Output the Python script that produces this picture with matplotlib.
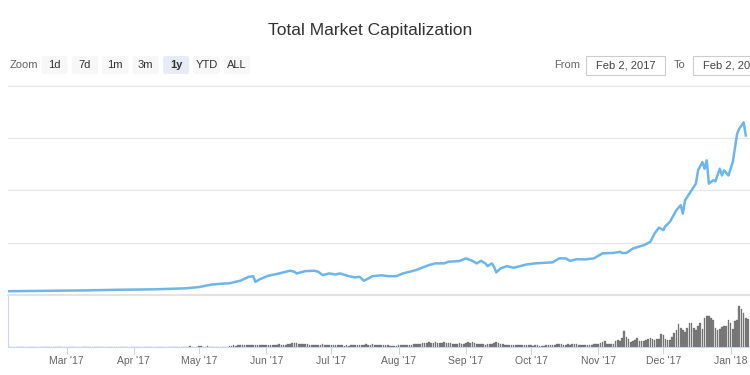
import pandas as pd
import matplotlib
matplotlib.use("Agg")
import matplotlib.pyplot as plt
import matplotlib.dates as mdates
from matplotlib.patches import FancyBboxPatch, Rectangle

TITLE = "Total Market Capitalization"
ZOOM_BUTTONS = ["1d", "7d", "1m", "3m", "1y", "YTD", "ALL"]
SELECTED = "1y"
FROM_DATE = "Feb 2, 2017"
TO_DATE = "Feb 2, 2017"

# total market cap, billions USD
cap_dates = [
    "2017-02-02", "2017-02-20", "2017-03-10", "2017-03-25", "2017-04-10", "2017-04-25",
    "2017-05-01", "2017-05-07", "2017-05-13", "2017-05-15", "2017-05-20", "2017-05-24",
    "2017-05-26", "2017-05-27", "2017-05-29", "2017-06-02", "2017-06-07", "2017-06-12",
    "2017-06-14", "2017-06-15", "2017-06-19", "2017-06-23", "2017-06-25", "2017-06-27",
    "2017-06-30", "2017-07-03", "2017-07-05", "2017-07-09", "2017-07-12", "2017-07-14",
    "2017-07-16", "2017-07-20", "2017-07-24", "2017-07-27", "2017-07-31", "2017-08-03",
    "2017-08-09", "2017-08-15", "2017-08-18", "2017-08-22", "2017-08-24", "2017-08-29",
    "2017-09-01", "2017-09-04", "2017-09-06", "2017-09-08", "2017-09-10", "2017-09-11",
    "2017-09-13", "2017-09-14", "2017-09-15", "2017-09-17", "2017-09-20", "2017-09-23",
    "2017-09-29", "2017-10-03", "2017-10-11", "2017-10-14", "2017-10-17", "2017-10-19",
    "2017-10-22", "2017-10-26", "2017-10-30", "2017-11-03", "2017-11-08", "2017-11-11",
    "2017-11-12", "2017-11-14", "2017-11-17", "2017-11-22", "2017-11-25", "2017-11-27",
    "2017-11-29", "2017-12-01", "2017-12-02", "2017-12-04", "2017-12-07", "2017-12-09",
    "2017-12-10", "2017-12-11", "2017-12-14", "2017-12-16", "2017-12-17", "2017-12-19",
    "2017-12-20", "2017-12-21", "2017-12-22", "2017-12-24", "2017-12-25", "2017-12-27",
    "2017-12-28", "2017-12-29", "2017-12-31", "2018-01-02", "2018-01-04", "2018-01-05",
    "2018-01-07", "2018-01-08",
]
cap_bn = [
    18, 20, 22, 25, 27, 32,
    38, 50, 55, 56, 68, 87,
    90, 63, 75, 92, 103, 116,
    111, 103, 114, 116, 111, 95,
    103, 98, 103, 90, 84, 87,
    68, 90, 94, 90, 90, 103,
    119, 143, 151, 151, 159, 162,
    175, 163, 151, 163, 151, 138,
    151, 135, 108, 127, 138, 130,
    146, 151, 156, 175, 175, 163,
    171, 170, 175, 199, 201, 206,
    201, 201, 222, 238, 254, 294,
    322, 310, 329, 349, 405, 429,
    389, 452, 500, 532, 595, 635,
    603, 643, 532, 548, 543, 603,
    571, 595, 571, 635, 770, 794,
    825, 762,
]

# daily 24h volume, billions USD, starting Feb 2 2017
vol_start = "2017-02-02"
vol_feb = [0.2, 0.2, 0.2, 0.3, 0.2, 0.2, 0.3, 0.2, 0.2, 0.2, 0.2, 0.2, 0.2, 0.3,
           0.2, 0.2, 0.2, 0.2, 0.3, 0.3, 0.3, 0.2, 0.3, 0.3, 0.4, 0.3, 0.3]
vol_mar = [0.3, 0.3, 0.4, 0.3, 0.3, 0.4, 0.4, 0.3, 0.4, 0.5, 0.4, 0.4, 0.4, 0.5, 0.5, 0.4,
           0.5, 0.5, 0.4, 0.4, 0.5, 0.5, 0.4, 0.4, 0.5, 0.4, 0.4, 0.4, 0.5, 0.4, 0.4]
vol_apr = [0.4, 0.4, 0.5, 0.5, 0.4, 0.4, 0.4, 0.4, 0.4, 0.4, 0.4, 0.4, 0.4, 0.4, 0.3,
           0.3, 0.4, 0.4, 0.4, 0.5, 0.5, 0.5, 0.4, 0.5, 0.6, 0.7, 0.8, 0.7, 0.6, 0.7]
vol_may = [1.0, 1.4, 0.6, 0.5, 1.3, 0.5, 0.5, 0.5, 0.5, 0.4, 0.5, 0.5, 0.6, 0.5, 1.8, 2.0,
           2.2, 2.1, 2.4, 2.6, 2.3, 2.8, 3.0, 3.3, 3.6, 3.2, 2.7, 2.4, 2.6, 2.8, 2.9]
vol_jun = [3.1, 3.4, 3.0, 2.8, 3.2, 3.6, 3.9, 3.5, 3.3, 3.6, 4.4, 5.0, 5.4, 5.6, 5.2,
           4.6, 4.2, 4.0, 3.7, 3.9, 3.5, 3.2, 3.6, 3.1, 2.9, 3.4, 3.8, 3.3, 3.0, 3.1]
vol_jul = [2.4, 2.2, 2.5, 2.9, 2.6, 2.3, 2.0, 2.2, 2.1, 2.3, 2.6, 2.8, 2.5, 2.4, 2.9, 3.3,
           3.9, 3.0, 3.4, 4.2, 3.6, 2.6, 2.4, 2.2, 2.5, 2.3, 2.4, 2.1, 1.9, 1.8, 2.0]
vol_aug = [2.6, 2.4, 3.0, 3.2, 3.6, 3.3, 3.4, 3.9, 4.2, 3.8, 4.5, 5.2, 6.3, 5.8, 6.6, 5.4,
           5.9, 6.8, 6.1, 5.6, 6.4, 7.0, 6.2, 5.3, 5.5, 4.8, 4.6, 4.9, 5.8, 5.1, 4.9]
vol_sep = [6.3, 6.8, 5.9, 6.6, 5.7, 4.4, 4.8, 4.1, 3.9, 3.6, 3.8, 4.2, 4.6, 6.2, 7.4,
           6.5, 4.8, 3.7, 3.4, 3.0, 3.1, 2.9, 2.6, 2.4, 2.2, 2.5, 2.7, 2.4, 2.3, 2.6]
vol_oct = [2.3, 2.1, 2.4, 2.2, 2.0, 2.1, 2.0, 2.2, 2.6, 2.8, 3.0, 3.6, 4.2, 4.0, 3.7, 3.5,
           3.3, 3.9, 3.6, 3.8, 4.3, 3.8, 3.4, 3.6, 3.2, 3.0, 3.1, 3.3, 3.5, 3.8, 4.4]
vol_nov = [4.5, 6.0, 6.8, 8.2, 4.3, 4.1, 4.6, 4.4, 9.5, 10.2, 9.1, 13.8, 24.0, 15.0, 11.0,
           7.2, 9.0, 10.8, 12.6, 8.4, 8.8, 8.2, 9.6, 12.4, 13.0, 12.2, 10.4, 11.2, 12.0, 19.6]
vol_dec = [17, 11, 10, 10, 14, 21, 25, 34, 28, 25, 22, 28, 35, 35, 28, 25,
           31, 35, 27, 42, 45, 45, 42, 39, 28, 25, 27, 29, 31, 31, 39]
vol_jan = [35, 27, 38, 39, 60, 56, 49, 42, 41]

volume_bn = (vol_feb + vol_mar + vol_apr + vol_may + vol_jun + vol_jul + vol_aug
             + vol_sep + vol_oct + vol_nov + vol_dec + vol_jan)
vol_dates = pd.date_range(vol_start, periods=len(volume_bn), freq="D")

month_ticks = pd.date_range("2017-03-01", "2018-01-01", freq="MS")
month_labels = [d.strftime("%b '%y") for d in month_ticks]

LINE = "#6cb6eb"
GRID = "#e6e6e6"
AXIS = "#ccd6eb"
FONT = "Liberation Sans"

W, H = 750, 375
fig = plt.figure(figsize=(7.5, 3.75), dpi=100)

x0 = mdates.date2num(pd.Timestamp("2017-02-02"))
x1 = x0 + 742 / 2.17

# main chart
ax = fig.add_axes([8 / W, 80 / H, 742 / W, 210 / H])
ax.plot(pd.to_datetime(cap_dates), cap_bn, color=LINE, lw=1.8, solid_joinstyle="round")
ax.set_xlim(x0, x1)
ax.set_ylim(0, 1003)
ax.set_yticks([250, 500, 750, 1000])
ax.yaxis.grid(True, color=GRID, lw=1)
ax.set_axisbelow(True)
ax.tick_params(left=False, labelleft=False, bottom=False, labelbottom=False)
for s in ax.spines.values():
    s.set_visible(False)

# volume panel
axv = fig.add_axes([8 / W, 28 / H, 742 / W, 52 / H])
axv.bar(vol_dates, volume_bn, width=0.75, color="#7d7d7d", edgecolor="#5e5e5e", lw=0.2)
axv.set_xlim(x0, x1)
axv.set_ylim(0, 76)
axv.set_yticks([])
axv.set_xticks(month_ticks)
axv.set_xticklabels(month_labels)
axv.tick_params(axis="x", length=5, color=AXIS, labelcolor="#666666", labelsize=7.5, pad=1.5)
for lab in axv.get_xticklabels():
    lab.set_family(FONT)
axv.spines["right"].set_visible(False)
axv.spines["top"].set_color("#e3e3e3")
axv.spines["top"].set_linewidth(1.5)
axv.spines["left"].set_color(AXIS)
axv.spines["bottom"].set_color(AXIS)

# header: title, zoom buttons, date range boxes (pixel coords)
ui = fig.add_axes([0, 0, 1, 1], zorder=-1)
ui.set_xlim(0, W)
ui.set_ylim(H, 0)
ui.axis("off")

ui.text(370, 30, TITLE, ha="center", va="center", fontsize=12.5, color="#333333", family=FONT)
ui.text(10, 65.5, "Zoom", ha="left", va="center", fontsize=8, color="#666666", family=FONT)
for i, lab in enumerate(ZOOM_BUTTONS):
    cx = 54.5 + i * 30.4
    sel = lab == SELECTED
    ui.add_patch(FancyBboxPatch((cx - 12, 57), 24, 16, boxstyle="round,pad=1,rounding_size=2",
                                fc="#e6ebf5" if sel else "#f7f7f7", ec="none"))
    ui.text(cx, 65.5, lab, ha="center", va="center", fontsize=8, color="#333333",
            family=FONT, fontweight="bold" if sel else "normal")

ui.text(567, 65.5, "From", ha="center", va="center", fontsize=8, color="#666666", family=FONT)
ui.add_patch(Rectangle((586, 56), 79, 19, fc="white", ec="#cccccc", lw=0.8))
ui.text(625.5, 65.5, FROM_DATE, ha="center", va="center", fontsize=8, color="#444444", family=FONT)
ui.text(680, 65.5, "To", ha="center", va="center", fontsize=8, color="#666666", family=FONT)
# the second box runs past the right edge, as in the original screenshot
ui.add_patch(Rectangle((693, 56), 79, 19, fc="white", ec="#cccccc", lw=0.8))
ui.text(732.5, 65.5, TO_DATE, ha="center", va="center", fontsize=8, color="#444444", family=FONT)

fig.savefig("out.png", dpi=100)
